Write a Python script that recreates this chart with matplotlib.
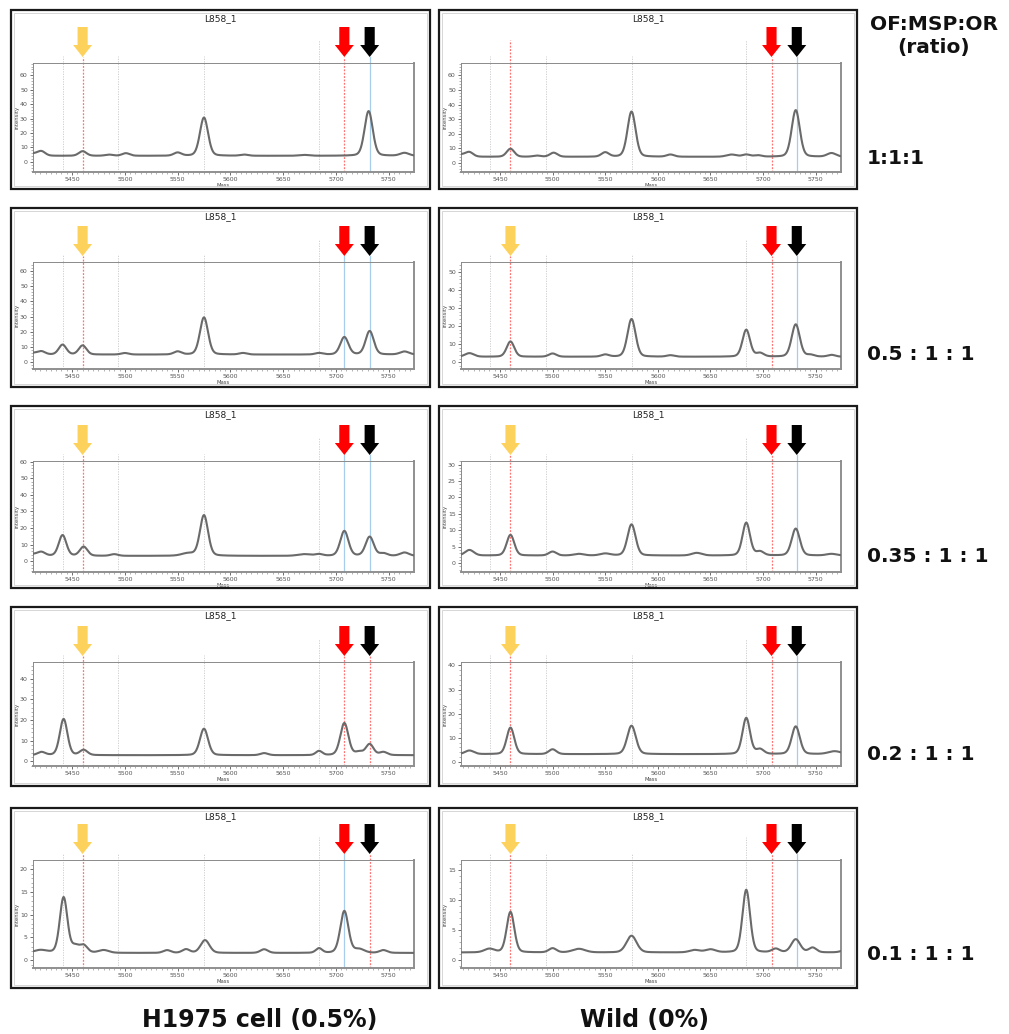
import numpy as np
import matplotlib
matplotlib.use("Agg")
import matplotlib.pyplot as plt
from matplotlib.patches import Rectangle, Polygon

# ---------------- data ----------------
mass_range = (5413, 5774)
mass_ticks = [5450, 5500, 5550, 5600, 5650, 5700, 5750]
ref_masses = [5441, 5494, 5575, 5684]          # grey reference lines
target_masses = [5460, 5708, 5732]              # arrows: yellow, red, black
ratio_labels = ["1:1:1", "0.5 : 1 : 1", "0.35 : 1 : 1", "0.2 : 1 : 1", "0.1 : 1 : 1"]
column_labels = ["H1975 cell (0.5%)", "Wild (0%)"]
panel_title = "L858_1"

# per panel: baseline intensity and peaks (mass, height above baseline, width in Da)
h1975_baseline = [4.2, 5.0, 3.2, 3.0, 1.6]
wild_baseline = [4.2, 3.0, 2.3, 3.2, 1.2]

h1975_peaks_1 = [(5413, 1.5, 4), (5421, 3.0, 3), (5460, 3.2, 3), (5485, 0.8, 3), (5501, 1.8, 3),
                 (5550, 2.2, 3), (5575, 26.5, 3.2), (5613, 0.8, 3), (5670, 0.6, 4), (5731, 31.0, 3.2),
                 (5765, 2.0, 3.5)]
h1975_peaks_2 = [(5413, 1.0, 4), (5421, 2.0, 3), (5441, 6.5, 3), (5460, 6.0, 3), (5500, 1.0, 3),
                 (5550, 2.0, 3), (5575, 24.5, 3.2), (5612, 1.0, 3), (5684, 1.0, 3), (5708, 11.5, 3.2),
                 (5732, 15.5, 3.2), (5765, 2.0, 3.5)]
h1975_peaks_3 = [(5413, 1.0, 4), (5421, 2.2, 3), (5441, 12.5, 3), (5461, 5.5, 3), (5490, 1.0, 3),
                 (5560, 1.5, 5), (5575, 24.5, 3.2), (5670, 1.0, 5), (5684, 1.0, 3), (5708, 15.0, 3.2),
                 (5732, 11.5, 3.2), (5745, 1.5, 3), (5765, 2.0, 3.5)]
h1975_peaks_4 = [(5421, 1.5, 3), (5442, 17.5, 3), (5461, 2.5, 3), (5575, 12.8, 3.2), (5632, 1.0, 3),
                 (5684, 2.0, 2.5), (5708, 15.5, 3.2), (5722, 1.5, 3), (5732, 5.3, 3), (5745, 1.5, 3)]
h1975_peaks_5 = [(5420, 0.6, 5), (5442, 12.2, 3), (5453, 1.4, 3), (5461, 1.6, 3), (5480, 0.6, 4),
                 (5540, 0.6, 3), (5558, 0.8, 3), (5576, 2.8, 3.5), (5632, 0.8, 3), (5684, 1.0, 2.5),
                 (5708, 9.2, 3.2), (5722, 0.8, 4), (5745, 0.6, 3)]

wild_peaks_1 = [(5413, 1.5, 4), (5421, 3.0, 3), (5460, 5.5, 3), (5485, 0.8, 3), (5501, 2.8, 3),
                (5550, 3.0, 3), (5575, 31.0, 3.2), (5612, 1.5, 3), (5670, 1.5, 4), (5684, 1.5, 3),
                (5695, 1.0, 3), (5731, 32.0, 3.2), (5765, 2.5, 3.5)]
wild_peaks_2 = [(5421, 2.0, 3.5), (5460, 8.5, 3), (5500, 1.8, 3), (5550, 1.2, 3), (5575, 21.0, 3.2),
                (5612, 0.8, 3), (5684, 15.0, 3), (5697, 2.0, 3), (5731, 18.0, 3.2), (5745, 1.0, 3),
                (5765, 1.0, 3)]
wild_peaks_3 = [(5421, 1.7, 3.5), (5460, 6.3, 3), (5500, 1.2, 3), (5525, 0.5, 4), (5550, 0.6, 4),
                (5575, 9.5, 3.2), (5637, 0.8, 4), (5684, 10.0, 3), (5697, 1.2, 3), (5731, 8.2, 3.2),
                (5765, 0.5, 4)]
wild_peaks_4 = [(5421, 1.5, 3.5), (5460, 11.0, 3), (5500, 2.0, 3), (5575, 11.8, 3.4), (5684, 15.0, 3),
                (5697, 2.0, 3), (5731, 11.5, 3.2), (5768, 1.2, 5)]
wild_peaks_5 = [(5440, 0.6, 4), (5460, 6.8, 3), (5500, 0.7, 3), (5525, 0.6, 5), (5575, 2.8, 4),
                (5635, 0.4, 4), (5650, 0.5, 4), (5684, 10.5, 3), (5712, 0.6, 3), (5731, 2.2, 3.5),
                (5747, 0.8, 3), (5780, 0.5, 4)]

h1975_peaks = [h1975_peaks_1, h1975_peaks_2, h1975_peaks_3, h1975_peaks_4, h1975_peaks_5]
wild_peaks = [wild_peaks_1, wild_peaks_2, wild_peaks_3, wild_peaks_4, wild_peaks_5]

h1975_ylim = [(-7, 68.5), (-4.5, 66), (-6.5, 60.4), (-2.2, 48), (-1.7, 22)]
wild_ylim = [(-6.2, 68.5), (-3.8, 55.7), (-2.7, 31.1), (-1.7, 41.4), (-1.4, 16.7)]
h1975_yticks = [range(0, 61, 10), range(0, 61, 10), range(0, 61, 10), range(0, 41, 10), range(0, 21, 5)]
wild_yticks = [range(0, 61, 10), range(0, 51, 10), range(0, 31, 5), range(0, 41, 10), range(0, 16, 5)]

# line colours of the target-mass markers, per panel (5460, 5708, 5732)
h1975_marker_kinds = [("r", "r", "b"), ("r", "b", "b"), ("r", "b", "b"), ("r", "r", "r"), ("r", "b", "r")]
wild_marker_kinds = [("r", "r", "b")] * 5

# ---------------- layout ----------------
W, H = 1009, 1034
fig = plt.figure(figsize=(W / 100, H / 100), dpi=100)
fig.patch.set_facecolor("white")

col_x = [(11, 430), (439, 857)]
row_y = [(10, 189), (208, 387), (406, 588), (607, 786), (808, 988)]
ax_top = [63, 262, 461, 662, 860]
ax_bot = [172, 369, 572, 766, 968]

arrow_colors = ["#FDD25C", "#FF0000", "#000000"]
line_colors = {"r": "#FF7373", "b": "#A7CDEB"}
WIDTH_SCALE = 1.2


def fx(px):
    return px / W


def fy(py):
    return 1 - py / H


def spectrum(m, base, peaks):
    y = np.full_like(m, base, dtype=float)
    for c, h, w in peaks:
        w = w * WIDTH_SCALE
        g = np.exp(-0.5 * ((m - c) / w) ** 2)
        l = 1.0 / (1.0 + ((m - c) / (1.2 * w)) ** 2)
        y += h * (0.8 * g + 0.2 * l)
    return y


masses = np.linspace(mass_range[0], mass_range[1], 1500)

for ci, (peaks_list, bases, ylims, yticks, kinds) in enumerate(
        [(h1975_peaks, h1975_baseline, h1975_ylim, h1975_yticks, h1975_marker_kinds),
         (wild_peaks, wild_baseline, wild_ylim, wild_yticks, wild_marker_kinds)]):
    x0, x1 = col_x[ci]
    for ri in range(5):
        y0, y1 = row_y[ri]
        # outer panel frame
        fig.add_artist(Rectangle((fx(x0), fy(y1)), fx(x1 - x0), (y1 - y0) / H,
                                 transform=fig.transFigure, fill=False, lw=1.6,
                                 edgecolor="#1a1a1a", zorder=5))
        fig.add_artist(Rectangle((fx(x0 + 3), fy(y1 - 3)), fx(x1 - x0 - 6), (y1 - y0 - 6) / H,
                                 transform=fig.transFigure, fill=False, lw=0.6,
                                 edgecolor="#d0d0d0", zorder=5))
        fig.text(fx((x0 + x1) / 2), fy(y0 + 9), panel_title, ha="center", va="center",
                 fontsize=6.5, color="#222222")

        axl, axr = x0 + 22, x1 - 16
        at, ab = ax_top[ri], ax_bot[ri]
        ax = fig.add_axes([fx(axl), fy(ab), fx(axr - axl), (ab - at) / H])
        ah = ab - at
        ax.set_xlim(*mass_range)
        ax.set_ylim(*ylims[ri])

        def yf(px_above):
            return 1 + px_above / ah

        bt = ax.get_xaxis_transform()
        # grey reference lines
        for m in ref_masses:
            top = 23 if m == 5684 else 7
            ax.plot([m, m], [0, yf(top)], transform=bt, color="#c9c9c9", lw=0.6,
                    ls=(0, (1.5, 1.5)), clip_on=False, zorder=1)
        # target lines
        for m, k in zip(target_masses, kinds[ri]):
            top = 6
            if ci == 1 and ri == 0 and m == 5460:
                top = 23
            ls = (0, (1.5, 1.2)) if k == "r" else "-"
            ax.plot([m, m], [0, yf(top)], transform=bt, color=line_colors[k], lw=0.9,
                    ls=ls, clip_on=False, zorder=1)
        # arrows
        for m, col in zip(target_masses, arrow_colors):
            if ci == 1 and ri == 0 and m == 5460:
                continue
            sw, hw = 4.8, 9.0
            ytop, yhead, ytip = yf(36), yf(18), yf(6)
            poly = Polygon([(m - sw, ytop), (m + sw, ytop), (m + sw, yhead), (m + hw, yhead),
                            (m, ytip), (m - hw, yhead), (m - sw, yhead)],
                           closed=True, transform=bt, facecolor=col, edgecolor="none",
                           clip_on=False, zorder=6)
            ax.add_patch(poly)

        ax.plot(masses, spectrum(masses, bases[ri], peaks_list[ri]), color="#6a6a6a",
                lw=1.5, zorder=3)

        ax.set_xticks(mass_ticks)
        ax.set_xticks(np.arange(5415, 5775, 5), minor=True)
        ax.set_yticks(list(yticks[ri]))
        step = list(yticks[ri])[1] - list(yticks[ri])[0]
        ax.set_yticks(np.arange(ylims[ri][0] // (step / 5) * (step / 5) + step / 5,
                                ylims[ri][1], step / 5), minor=True)
        ax.tick_params(axis="both", which="major", labelsize=4.5, colors="#555555",
                       length=2.2, width=0.6, pad=1.5)
        ax.tick_params(axis="both", which="minor", length=1.3, width=0.4, colors="#777777")
        ax.set_xlabel("Mass", fontsize=3.8, color="#444444", labelpad=0.5)
        ax.set_ylabel("Intensity", fontsize=3.8, color="#444444", labelpad=0.5)
        for s in ["left", "top"]:
            ax.spines[s].set_color("#8a8a8a")
            ax.spines[s].set_linewidth(0.7)
        for s in ["right", "bottom"]:
            ax.spines[s].set_color("#8f8f8f")
            ax.spines[s].set_linewidth(1.4)

# right-hand ratio labels
fig.text(fx(934), fy(25), "OF:MSP:OR", ha="center", va="center", fontsize=14.5,
         fontweight="bold", color="#111111")
fig.text(fx(934), fy(47), "(ratio)", ha="center", va="center", fontsize=14.5,
         fontweight="bold", color="#111111")
for ri, lab in enumerate(ratio_labels):
    yc = [158, 355, 556, 754, 955][ri]
    fig.text(fx(867), fy(yc), lab, ha="left", va="center", fontsize=14.5,
             fontweight="bold", color="#111111")

# column labels
fig.text(fx(260), fy(1020), column_labels[0], ha="center", va="center", fontsize=17,
         fontweight="bold", color="#111111")
fig.text(fx(644), fy(1020), column_labels[1], ha="center", va="center", fontsize=17,
         fontweight="bold", color="#111111")

fig.savefig("out.png", dpi=100, facecolor="white")
